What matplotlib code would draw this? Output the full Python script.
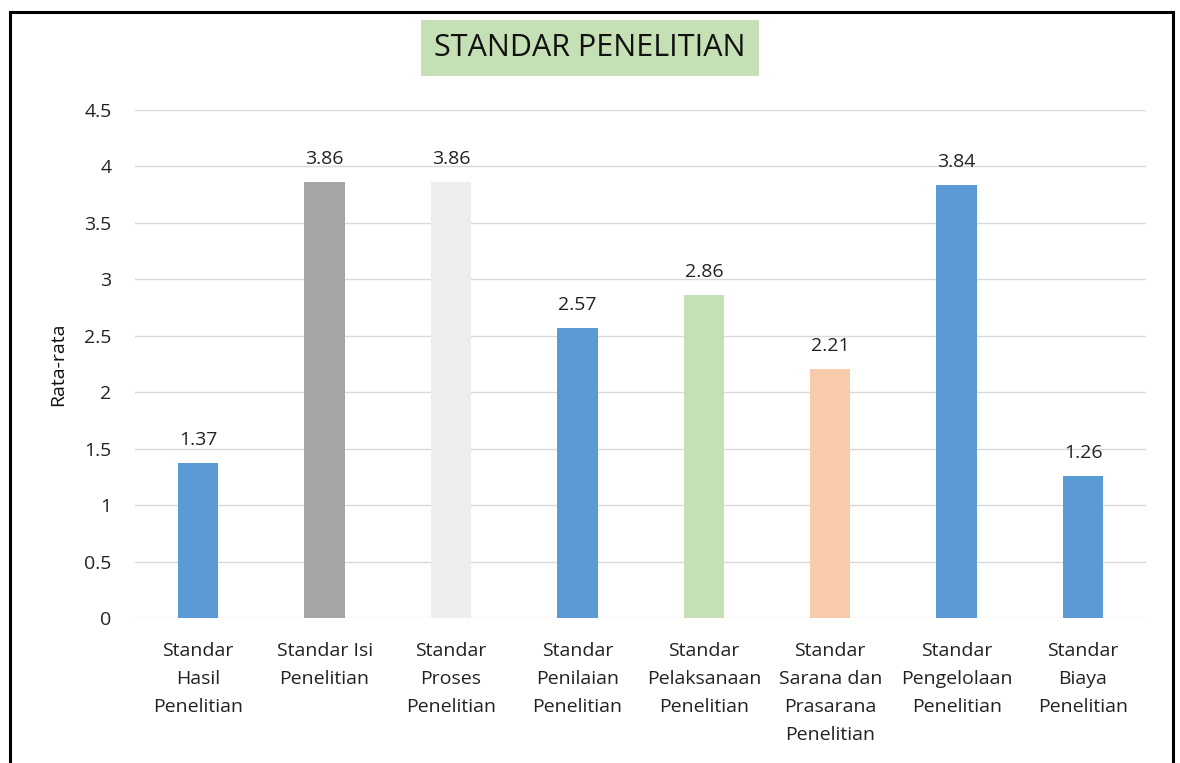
import matplotlib
matplotlib.use("Agg")
import matplotlib.pyplot as plt
from matplotlib.patches import Rectangle

plt.rcParams['font.family'] = ['Open Sans', 'DejaVu Sans']

# data
categories = ["Standar\nHasil\nPenelitian", "Standar Isi\nPenelitian", "Standar\nProses\nPenelitian",
              "Standar\nPenilaian\nPenelitian", "Standar\nPelaksanaan\nPenelitian",
              "Standar\nSarana dan\nPrasarana\nPenelitian", "Standar\nPengelolaan\nPenelitian",
              "Standar\nBiaya\nPenelitian"]
values = [1.37, 3.86, 3.86, 2.57, 2.86, 2.21, 3.84, 1.26]
bar_colors = ["#5B9BD5", "#A5A5A5", "#EDEDED", "#5B9BD5", "#C5E0B4", "#F8CBAD", "#5B9BD5", "#5B9BD5"]
yticks = [0, 0.5, 1, 1.5, 2, 2.5, 3, 3.5, 4, 4.5]
ytick_labels = ["0", "0.5", "1", "1.5", "2", "2.5", "3", "3.5", "4", "4.5"]

fig = plt.figure(figsize=(11.8, 7.63), dpi=100)
ax = fig.add_axes([0.1144, 0.19, 0.857, 0.6658])

x = range(len(categories))
bars = ax.bar(x, values, width=0.32, color=bar_colors, zorder=3)

# value labels
for b, v in zip(bars, values):
    ax.annotate(f"{v:.2f}", (b.get_x() + b.get_width() / 2, v), xytext=(0, 10),
                textcoords="offset points", ha="center", va="bottom",
                fontsize=14, color="#222222")

ax.set_xlim(-0.5, len(categories) - 0.5)
ax.set_ylim(0, 4.5)
ax.set_yticks(yticks)
ax.set_yticklabels(ytick_labels)
ax.set_xticks(list(x))
ax.set_xticklabels(categories, linespacing=1.72)
ax.tick_params(axis='both', length=0, labelsize=14, colors="#222222")
ax.tick_params(axis='x', pad=17)
ax.tick_params(axis='y', pad=17)
ax.grid(axis='y', color="#D9D9D9", lw=1, zorder=0)
for s in ax.spines.values():
    s.set_visible(False)

ax.set_ylabel("Rata-rata", fontsize=14, color="#111111", labelpad=12)

# title in green box
fig.text(0.5, 0.937, "STANDAR PENELITIAN", ha="center", va="center", fontsize=22,
         color="#111111",
         bbox=dict(boxstyle="square,pad=0.42", facecolor="#C5E0B4", edgecolor="none"))

# outer frame (bottom edge falls outside the picture)
fig.patches.append(Rectangle((10 / 1180, -0.05), 1163 / 1180, 0.05 + (763 - 12) / 763,
                             transform=fig.transFigure, fill=False, edgecolor="black",
                             lw=2.2, clip_on=False))

fig.savefig("out.png", dpi=100)
